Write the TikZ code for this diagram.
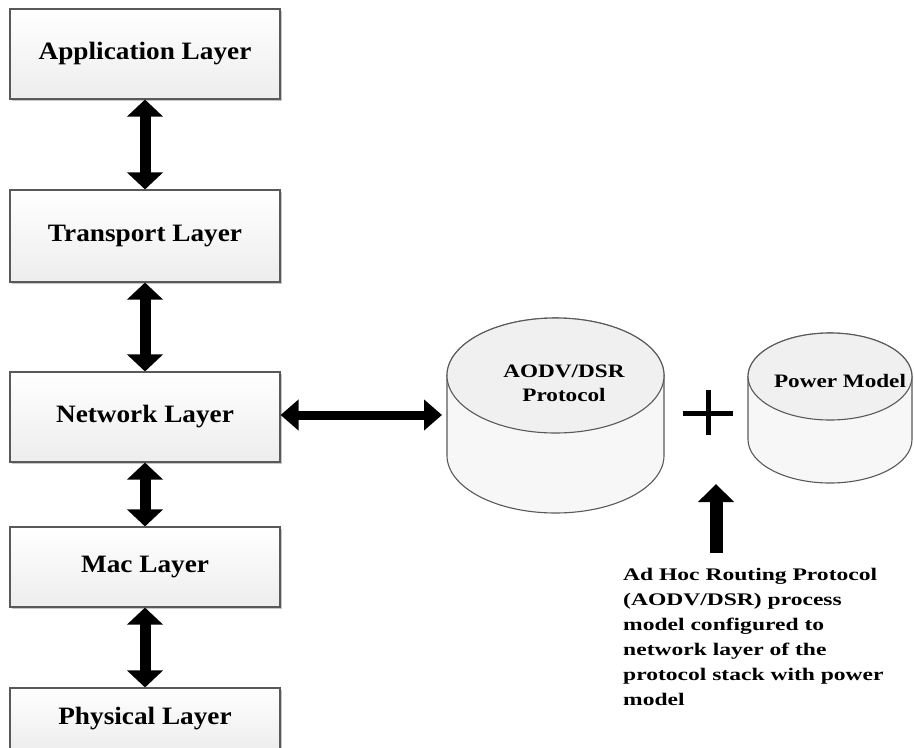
\documentclass[tikz,border=0pt]{standalone}
\usepackage{fontspec}
\setmainfont{Liberation Serif}
\newfontfamily\layerfont[FakeStretch=1.09]{Liberation Serif}
\newfontfamily\cylfont[FakeStretch=1.22]{Liberation Serif}
\newfontfamily\notefont[FakeStretch=1.33]{Liberation Serif}
\usetikzlibrary{arrows.meta,shadows}

\tikzset{
  layerbox/.style={draw=black!65, line width=1.1pt, top color=white, bottom color=black!7,
    minimum width=270pt, inner sep=0pt,
    font=\layerfont\bfseries\fontsize{25}{30}\selectfont,
    drop shadow={shadow xshift=2pt, shadow yshift=-2pt, opacity=0.22, fill=black}},
  cylbody/.style={draw=black!65, line width=1.1pt, fill=black!3},
  cyltop/.style={draw=black!65, line width=1.1pt, fill=black!6},
  cyllabel/.style={align=center, inner sep=0pt,
    font=\cylfont\bfseries\fontsize{19}{24}\selectfont},
  vlink/.style={line width=11pt, {Triangle[length=17pt 0 0, width=35pt 0 0]}-{Triangle[length=17pt 0 0, width=35pt 0 0]}},
  hlink/.style={line width=9pt, {Triangle[length=18pt 0 0, width=30pt 0 0]}-{Triangle[length=18pt 0 0, width=30pt 0 0]}},
  uplink/.style={line width=13pt, -{Triangle[length=18pt 0 0, width=35pt 0 0]}},
  plusbar/.style={line width=5pt},
  notetext/.style={align=left, inner sep=0pt, anchor=north west,
    font=\notefont\bfseries\fontsize{17.7}{25}\selectfont}
}

\begin{document}
\begin{tikzpicture}[x=1pt,y=1pt]
\useasboundingbox (0,0) rectangle (915,-747);
\begin{scope}
\clip (0,0) rectangle (915,-747);

% protocol stack
\node[layerbox, minimum height=90pt] (app)   at (145,-54)  {Application Layer};
\node[layerbox, minimum height=92pt] (trans) at (145,-236) {Transport Layer};
\node[layerbox, minimum height=90pt] (net)   at (145,-417) {Network Layer};
\node[layerbox, minimum height=80pt] (mac)   at (145,-567) {Mac Layer};
\node[layerbox, minimum height=62pt] (phys)  at (145,-719) {Physical Layer};

\draw[vlink] (app.south) -- (trans.north);
\draw[vlink] (trans.south) -- (net.north);
\draw[vlink] (net.south) -- (mac.north);
\draw[vlink] (mac.south) -- (phys.north);

% AODV/DSR cylinder
\path[cylbody] (447,-375.5) -- (447,-455.5)
  arc[start angle=180, end angle=360, x radius=108.5, y radius=57.5]
  -- (664,-375.5)
  arc[start angle=0, end angle=180, x radius=108.5, y radius=57.5] -- cycle;
\path[cyltop] (555.5,-375.5) ellipse[x radius=108.5, y radius=57.5];
\node[cyllabel] (aodv) at (564,-383.5) {AODV/DSR\\Protocol};
\coordinate (aodvW) at (442,-415);

% power model cylinder
\path[cylbody] (748,-376.5) -- (748,-439.5)
  arc[start angle=180, end angle=360, x radius=82, y radius=43.5]
  -- (912,-376.5)
  arc[start angle=0, end angle=180, x radius=82, y radius=43.5] -- cycle;
\path[cyltop] (830,-376.5) ellipse[x radius=82, y radius=43.5];
\node[cyllabel] (power) at (840,-380.5) {Power Model};

% plus sign
\coordinate (plus) at (708,-413);
\draw[plusbar] ([xshift=-25pt]plus) -- ([xshift=25pt]plus);
\draw[plusbar] ([yshift=23pt]plus) -- ([yshift=-22pt]plus);

% network layer to routing protocol
\draw[hlink] (net.east |- aodvW) -- (aodvW);

% annotation
\node[notetext] (note) at (623,-568)
  {Ad Hoc Routing Protocol\\(AODV/DSR) process\\model configured to\\network layer of the\\protocol stack with power\\model};
\coordinate (uptip) at (716,-484);
\draw[uplink, shorten <=15pt] (note.north -| uptip) -- (uptip);

\end{scope}
\end{tikzpicture}
\end{document}
